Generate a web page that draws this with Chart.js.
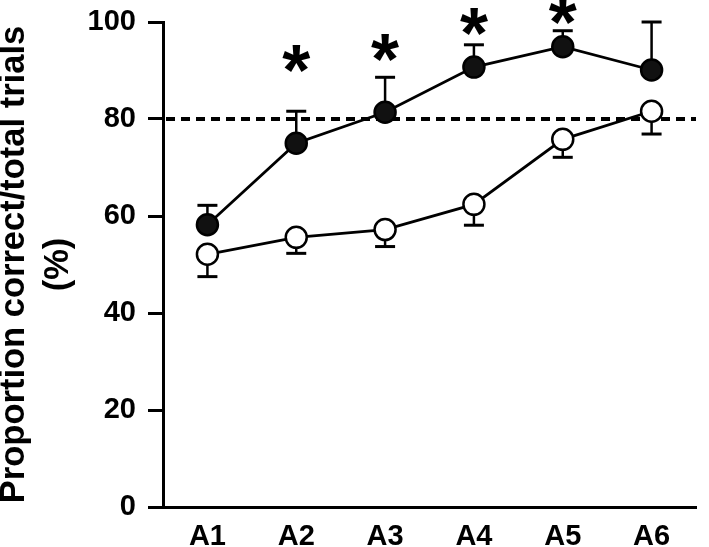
<!DOCTYPE html>
<html>
<head>
<meta charset="utf-8">
<script src="https://cdn.jsdelivr.net/npm/chart.js@4.4.1/dist/chart.umd.min.js"></script>
<style>
  body { margin: 0; background: #fff; }
  #wrap { width: 709px; height: 547px; }
</style>
</head>
<body>
<div id="wrap"><canvas id="chart" width="709" height="547"></canvas></div>
<script>
const sessions = ["A1", "A2", "A3", "A4", "A5", "A6"];
const filledMeans = [58.2, 75.0, 81.4, 90.7, 94.9, 90.1];
const filledErr = [4.0, 6.6, 7.2, 4.6, 3.3, 9.9];
const openMeans = [52.1, 55.6, 57.2, 62.4, 75.8, 81.6];
const openErr = [4.6, 3.3, 3.5, 4.3, 3.7, 4.7];
const starLevels = [null, 92.4, 94.8, 100.2, 102.3, null];
const criterion = 80;
const yTicks = [0, 20, 40, 60, 80, 100];

const FONT = "'Liberation Sans', Arial, sans-serif";

const errorBars = {
    id: "errorBars",
    beforeDatasetsDraw(chart) {
        const { ctx, chartArea, scales: { x, y } } = chart;
        ctx.save();

        // dashed criterion line
        const yc = y.getPixelForValue(criterion);
        ctx.strokeStyle = "#000";
        ctx.lineWidth = 4;
        ctx.setLineDash([9, 6]);
        ctx.beginPath();
        ctx.moveTo(chartArea.left + 3, yc);
        ctx.lineTo(chartArea.right, yc);
        ctx.stroke();
        ctx.setLineDash([]);

        // filled up, open down
        const drawBars = (means, errs, dir) => {
            means.forEach((m, i) => {
                const px = x.getPixelForValue(i);
                const y0 = y.getPixelForValue(m);
                const y1 = y.getPixelForValue(m + dir * errs[i]);
                ctx.lineWidth = 2.5;
                ctx.beginPath();
                ctx.moveTo(px, y0);
                ctx.lineTo(px, y1);
                ctx.stroke();
                ctx.lineWidth = 3;
                ctx.beginPath();
                ctx.moveTo(px - 10, y1);
                ctx.lineTo(px + 10, y1);
                ctx.stroke();
            });
        };
        drawBars(filledMeans, filledErr, 1);
        drawBars(openMeans, openErr, -1);
        ctx.restore();
    },
    afterDatasetsDraw(chart) {
        const { ctx, scales: { x, y } } = chart;
        ctx.save();
        ctx.fillStyle = "#000";
        ctx.font = "bold 72px " + FONT;
        ctx.textAlign = "center";
        ctx.textBaseline = "alphabetic";
        const m = ctx.measureText("*");
        const shift = (m.actualBoundingBoxAscent - m.actualBoundingBoxDescent) / 2;
        starLevels.forEach((v, i) => {
            if (v === null) return;
            ctx.fillText("*", x.getPixelForValue(i), y.getPixelForValue(v) + shift);
        });
        ctx.restore();
    }
};

const ctx = document.getElementById("chart").getContext("2d");

new Chart(ctx, {
    type: "line",
    data: {
        labels: sessions,
        datasets: [
            {
                label: "filled",
                data: filledMeans,
                borderColor: "#000",
                borderWidth: 2.8,
                pointRadius: 10.5,
                pointBorderWidth: 2.5,
                pointBackgroundColor: "#111",
                pointBorderColor: "#000",
                tension: 0,
                clip: false,
            },
            {
                label: "open",
                data: openMeans,
                borderColor: "#000",
                borderWidth: 2.8,
                pointRadius: 10.5,
                pointBorderWidth: 2.5,
                pointBackgroundColor: "#fff",
                pointBorderColor: "#000",
                tension: 0,
                clip: false,
            },
        ],
    },
    options: {
        responsive: false,
        animation: false,
        events: [],
        layout: { padding: { left: 0, right: 4, top: 22, bottom: 0 } },
        plugins: {
            legend: { display: false },
            tooltip: { enabled: false },
        },
        scales: {
            x: {
                offset: true,
                grid: { drawOnChartArea: false, drawTicks: false },
                border: { display: true, color: "#000", width: 3 },
                ticks: {
                    color: "#000",
                    font: { family: FONT, size: 29, weight: "bold" },
                    padding: 13,
                    maxRotation: 0,
                    autoSkip: false,
                },
                afterFit: (scale) => {
                    scale.height = 40;
                    scale.paddingLeft = 0;
                    scale.paddingRight = 0;
                },
            },
            y: {
                min: 0,
                max: 100,
                grid: { drawOnChartArea: false, drawTicks: true, tickLength: 15, tickWidth: 3, tickColor: "#000" },
                border: { display: true, color: "#000", width: 3 },
                ticks: {
                    color: "#000",
                    font: { family: FONT, size: 29, weight: "bold" },
                    padding: 12,
                },
                afterBuildTicks: (scale) => { scale.ticks = yTicks.map(v => ({ value: v })); },
                title: {
                    display: true,
                    text: ["Proportion correct/total trials", "(%)"],
                    color: "#000",
                    font: { family: FONT, size: 34.5, weight: "bold", lineHeight: 1.26 },
                    padding: { top: -7, bottom: 0 },
                },
                afterFit: (scale) => {
                    scale.width = 163;
                    scale.paddingTop = 0;
                    scale.paddingBottom = 0;
                },
            },
        },
    },
    plugins: [errorBars],
});
</script>
</body>
</html>
